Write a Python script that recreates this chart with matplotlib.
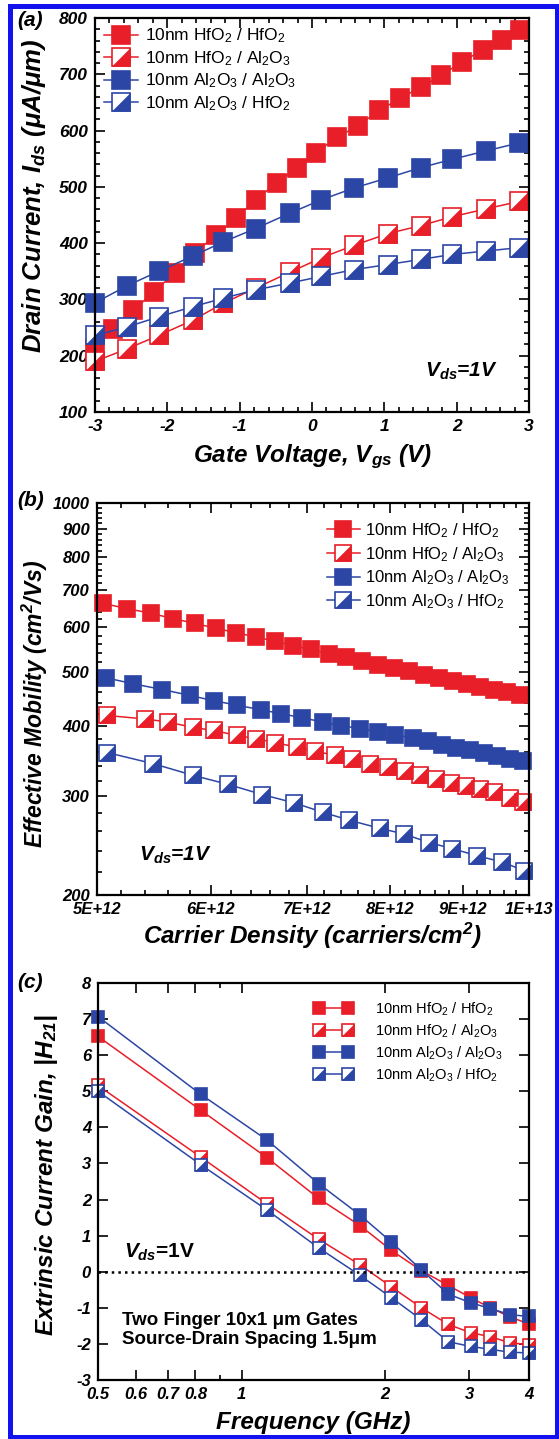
import numpy as np
import matplotlib
matplotlib.use("Agg")
import matplotlib.pyplot as plt
from matplotlib.path import Path
from matplotlib.patches import Rectangle
from matplotlib.lines import Line2D
from matplotlib.ticker import FixedLocator, NullFormatter, MultipleLocator
from matplotlib.legend_handler import HandlerLine2D

plt.rcParams.update({
    "font.family": ["Liberation Sans", "DejaVu Sans"],
    "font.weight": "bold",
    "font.style": "italic",
    "axes.labelweight": "bold",
    "axes.unicode_minus": False,
    "mathtext.fontset": "custom",
    "mathtext.it": "Liberation Sans:italic:bold",
    "mathtext.rm": "Liberation Sans:bold",
    "mathtext.bf": "Liberation Sans:bold",
    "axes.linewidth": 1.6,
})

RED = "#e81e28"
BLUE = "#2c46a6"
FRAME = "#1212ee"

LABELS = [
    r"10nm HfO$\mathregular{_2}$ / HfO$\mathregular{_2}$",
    r"10nm HfO$\mathregular{_2}$ / Al$\mathregular{_2}$O$\mathregular{_3}$",
    r"10nm Al$\mathregular{_2}$O$\mathregular{_3}$ / Al$\mathregular{_2}$O$\mathregular{_3}$",
    r"10nm Al$\mathregular{_2}$O$\mathregular{_3}$ / HfO$\mathregular{_2}$",
]

# (a) drain current vs gate voltage
a_red_fill_x = [-3.0, -2.75, -2.47, -2.18, -1.9, -1.62, -1.33, -1.05, -0.78, -0.49, -0.21,
                0.05, 0.35, 0.64, 0.93, 1.22, 1.5, 1.79, 2.07, 2.36, 2.63, 2.88]
a_red_fill_y = [212, 248, 281, 314, 347, 383, 414, 444, 477, 507, 534,
                561, 588, 609, 636, 657, 677, 698, 722, 743, 761, 779]
a_x = [-3.0, -2.56, -2.12, -1.65, -1.23, -0.78, -0.31, 0.13, 0.58, 1.05, 1.5, 1.94, 2.41, 2.86]
a_blue_fill_y = [294, 324, 350, 377, 402, 426, 453, 477, 498, 516, 534, 549, 564, 578]
a_red_half_y = [190, 212, 236, 263, 293, 320, 348, 374, 396, 417, 431, 447, 461, 474]
a_blue_half_y = [236, 251, 269, 287, 302, 317, 329, 341, 353, 362, 371, 380, 386, 392]

# (b) mobility vs carrier density (x in 1E12 carriers/cm2)
b_red_fill_x = [5.05, 5.25, 5.45, 5.65, 5.85, 6.05, 6.25, 6.45, 6.65, 6.85, 7.05, 7.25, 7.45,
                7.65, 7.85, 8.05, 8.25, 8.45, 8.65, 8.85, 9.05, 9.25, 9.45, 9.65, 9.85]
b_red_fill_y = [662, 648, 636, 622, 610, 598, 587, 577, 567, 557, 548, 539, 531,
                523, 515, 508, 501, 494, 488, 482, 476, 470, 465, 460, 455]
b_blue_fill_x = [5.07, 5.3, 5.55, 5.8, 6.03, 6.26, 6.5, 6.72, 6.95, 7.18, 7.4, 7.62,
                 7.85, 8.07, 8.3, 8.5, 8.7, 8.9, 9.1, 9.3, 9.5, 9.7, 9.9]
b_blue_fill_y = [488, 476, 465, 454, 444, 436, 428, 421, 414, 407, 401, 396,
                 391, 386, 381, 376, 371, 366, 362, 358, 354, 350, 346]
b_red_half_x = [5.08, 5.4, 5.6, 5.83, 6.03, 6.26, 6.45, 6.65, 6.89, 7.09, 7.32, 7.53,
                7.75, 7.97, 8.2, 8.4, 8.61, 8.82, 9.04, 9.24, 9.46, 9.7, 9.9]
b_red_half_y = [418, 412, 407, 398, 393, 385, 380, 374, 367, 361, 355, 349,
                343, 338, 333, 328, 322, 317, 313, 309, 305, 298, 293]
b_blue_half_x = [5.08, 5.47, 5.83, 6.17, 6.52, 6.86, 7.18, 7.49, 7.87, 8.18, 8.52, 8.84,
                 9.2, 9.58, 9.92]
b_blue_half_y = [359, 343, 327, 315, 302, 292, 281, 272, 263, 257, 248, 242, 235, 229, 221]
b_xticks = [5e12, 6e12, 7e12, 8e12, 9e12, 1e13]
b_xlabels = ["5E+12", "6E+12", "7E+12", "8E+12", "9E+12", "1E+13"]
b_yticks = [200, 300, 400, 500, 600, 700, 800, 900, 1000]

# (c) current gain vs frequency
c_freq = [0.5, 0.82, 1.13, 1.45, 1.77, 2.06, 2.38, 2.71, 3.02, 3.32, 3.65, 4.0]
c_red_fill = [6.52, 4.48, 3.16, 2.03, 1.28, 0.59, 0.03, -0.38, -0.72, -1.0, -1.25, -1.45]
c_blue_fill = [7.07, 4.92, 3.65, 2.44, 1.57, 0.82, 0.05, -0.62, -0.86, -1.02, -1.19, -1.24]
c_red_half = [5.16, 3.18, 1.88, 0.9, 0.19, -0.42, -1.0, -1.46, -1.69, -1.8, -1.97, -2.02]
c_blue_half = [5.0, 2.97, 1.71, 0.66, -0.1, -0.72, -1.33, -1.94, -2.07, -2.15, -2.23, -2.25]
c_xticks = [0.5, 0.6, 0.7, 0.8, 1, 2, 3, 4]
c_xlabels = ["0.5", "0.6", "0.7", "0.8", "1", "2", "3", "4"]

HALF = Path([(-1, -1), (1, -1), (1, 1), (-1, -1)],
            [Path.MOVETO, Path.LINETO, Path.LINETO, Path.CLOSEPOLY])


def draw(ax, x, y, color, half, ms, lw=1.1):
    line, = ax.plot(x, y, "-", color=color, lw=lw, marker="s", ms=ms,
                    mfc="white" if half else color, mec=color, mew=1.2, clip_on=False)
    if not half:
        return line
    tri, = ax.plot(x, y, ls="none", marker=HALF, ms=ms, mfc=color, mec=color,
                   mew=0.4, clip_on=False)
    return (line, tri)


def style_ticks(ax, size):
    ax.tick_params(which="both", direction="in", top=True, right=True,
                   width=1.2, labelsize=size, pad=5)
    ax.tick_params(which="major", length=7)
    ax.tick_params(which="minor", length=3.5)


def legend_font(size):
    return dict(family=["Liberation Sans", "DejaVu Sans"], weight="normal",
                style="normal", size=size)


fig = plt.figure(figsize=(5.59, 14.39), dpi=100)
W, H = 559, 1439

# ---------------- (a)
ax = fig.add_axes([95 / W, 1 - 412 / H, 434 / W, 394 / H])
h1 = draw(ax, a_red_fill_x, a_red_fill_y, RED, False, 13)
h2 = draw(ax, a_x, a_red_half_y, RED, True, 13)
h3 = draw(ax, a_x, a_blue_fill_y, BLUE, False, 13)
h4 = draw(ax, a_x, a_blue_half_y, BLUE, True, 13)
ax.set_xlim(-3, 3)
ax.set_ylim(100, 800)
ax.xaxis.set_major_locator(MultipleLocator(1))
ax.xaxis.set_minor_locator(MultipleLocator(0.2))
ax.yaxis.set_major_locator(MultipleLocator(100))
ax.yaxis.set_minor_locator(MultipleLocator(20))
style_ticks(ax, 12.5)
ax.set_xlabel(r"Gate Voltage, $\mathregular{V_{gs}}$ (V)", fontsize=17.5)
ax.set_ylabel(r"Drain Current, $\mathregular{I_{ds}}$ ($\mathregular{\mu}$A/$\mathregular{\mu}$m)", fontsize=18.5)
ax.xaxis.label.set_va("center")
ax.yaxis.label.set_va("center")
ax.xaxis.set_label_coords(0.5, -0.114)
ax.yaxis.set_label_coords(-0.14, 0.548)
ax.text(2.07, 173, r"$\mathregular{V_{ds}}$=1V", fontsize=15, ha="center", va="center")
ax.legend([h1, h2, h3, h4], LABELS, loc="upper left", bbox_to_anchor=(0, 1),
          frameon=False, prop=legend_font(12.5), numpoints=1, handlelength=2.0,
          handletextpad=0.4, borderaxespad=0.2, borderpad=0.3, labelspacing=0.22)
fig.text(17 / W, 1 - 20 / H, "(a)", fontsize=15, ha="left", va="center")

# ---------------- (b)
ax = fig.add_axes([97 / W, 1 - 895 / H, 432 / W, 392 / H])
ax.set_xscale("log")
ax.set_yscale("log")
h1 = draw(ax, np.array(b_red_fill_x) * 1e12, b_red_fill_y, RED, False, 11)
h2 = draw(ax, np.array(b_red_half_x) * 1e12, b_red_half_y, RED, True, 11)
h3 = draw(ax, np.array(b_blue_fill_x) * 1e12, b_blue_fill_y, BLUE, False, 11)
h4 = draw(ax, np.array(b_blue_half_x) * 1e12, b_blue_half_y, BLUE, True, 11)
ax.set_xlim(5e12, 1e13)
ax.set_ylim(200, 1000)
ax.set_xticks(b_xticks, labels=b_xlabels)
ax.xaxis.set_minor_locator(FixedLocator(np.arange(5.2e12, 1e13, 0.2e12)))
ax.xaxis.set_minor_formatter(NullFormatter())
ax.set_yticks(b_yticks, labels=[str(v) for v in b_yticks])
ax.yaxis.set_minor_locator(FixedLocator(np.arange(220, 1000, 20)))
ax.yaxis.set_minor_formatter(NullFormatter())
style_ticks(ax, 12)
ax.set_xlabel(r"Carrier Density (carriers/cm$\mathregular{^2}$)", fontsize=17.5)
ax.set_ylabel(r"Effective Mobility (cm$\mathregular{^2}$/Vs)", fontsize=16.5)
ax.xaxis.label.set_va("center")
ax.yaxis.label.set_va("center")
ax.xaxis.set_label_coords(0.5, -0.104)
ax.yaxis.set_label_coords(-0.143, 0.487)
ax.text(0.097, 0.10, r"$\mathregular{V_{ds}}$=1V", transform=ax.transAxes,
        fontsize=15, ha="left", va="center")
ax.legend([h1, h2, h3, h4], LABELS, loc="upper right", bbox_to_anchor=(0.975, 0.975),
          frameon=False, prop=legend_font(12), numpoints=1, handlelength=2.0,
          handletextpad=0.3, borderaxespad=0.2, borderpad=0.3, labelspacing=0.3)
fig.text(17 / W, 1 - 500 / H, "(b)", fontsize=15, ha="left", va="center")

# ---------------- (c)
ax = fig.add_axes([98 / W, 1 - 1380 / H, 431 / W, 397 / H])
ax.set_xscale("log")
h1 = draw(ax, c_freq, c_red_fill, RED, False, 8.5)
h2 = draw(ax, c_freq, c_red_half, RED, True, 8.5)
h3 = draw(ax, c_freq, c_blue_fill, BLUE, False, 8.5)
h4 = draw(ax, c_freq, c_blue_half, BLUE, True, 8.5)
ax.axhline(0, color="black", ls=":", lw=1.8)
ax.set_xlim(0.5, 4)
ax.set_ylim(-3, 8)
ax.set_xticks(c_xticks, labels=c_xlabels)
ax.xaxis.set_minor_locator(FixedLocator([0.9]))
ax.xaxis.set_minor_formatter(NullFormatter())
ax.yaxis.set_major_locator(MultipleLocator(1))
style_ticks(ax, 12)
ax.set_xlabel("Frequency (GHz)", fontsize=17.5)
ax.set_ylabel(r"Extrinsic Current Gain, |$\mathregular{H_{21}}$|", fontsize=17.5)
ax.xaxis.label.set_va("center")
ax.yaxis.label.set_va("center")
ax.xaxis.set_label_coords(0.5, -0.106)
ax.yaxis.set_label_coords(-0.12, 0.516)
ax.text(0.567, 0.54, r"$V_{ds}$=1V", fontsize=15, style="normal", ha="left", va="center")
ax.text(0.561, -1.62, "Two Finger 10x1 \u03bcm Gates\nSource-Drain Spacing 1.5\u03bcm",
        fontsize=13.5, style="normal", ha="left", va="center", linespacing=1.2)
ax.legend([h1, h2, h3, h4], LABELS, loc="upper right", bbox_to_anchor=(0.955, 0.975),
          frameon=False, prop=legend_font(10.5), numpoints=2, handlelength=4.0,
          handletextpad=0.8, borderaxespad=0.2, borderpad=0.3, labelspacing=0.32,
          handler_map={Line2D: HandlerLine2D(marker_pad=1.0)})
fig.text(17 / W, 1 - 983 / H, "(c)", fontsize=15, ha="left", va="center")

# blue frame around the whole figure
fig.patches.append(Rectangle((10 / W, 2 / H), 547 / W, 1431 / H, transform=fig.transFigure,
                             fill=False, ec=FRAME, lw=3.6))

fig.savefig("out.png", dpi=100)
